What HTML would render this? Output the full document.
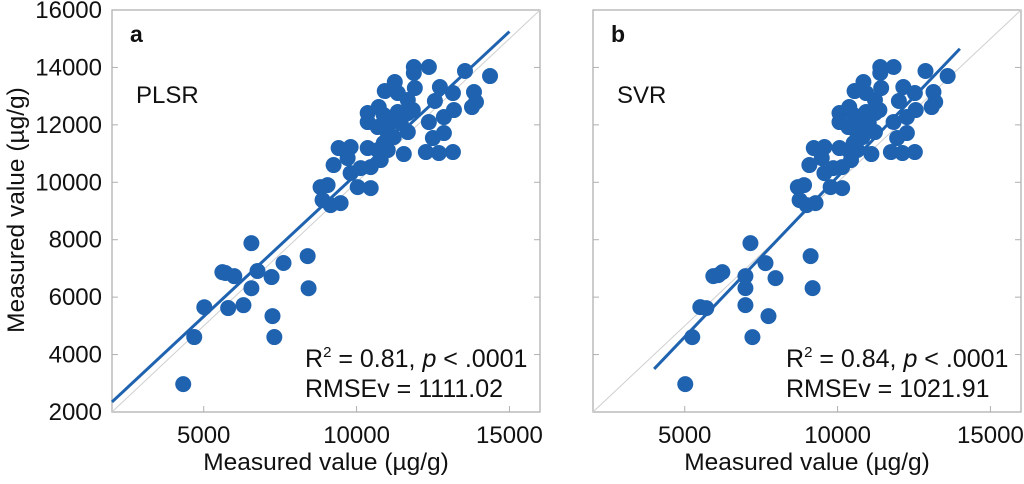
<!DOCTYPE html>
<html><head><meta charset="utf-8"><style>
body{margin:0;background:#fff;}
svg text{font-family:"Liberation Sans",Arial,sans-serif;fill:#111;}
</style></head><body>
<svg id="chart" width="1024" height="479" viewBox="0 0 1024 479" xmlns="http://www.w3.org/2000/svg"></svg>
<script>
const xTicks=[5000,10000,15000];
const yTicks=[2000,4000,6000,8000,10000,12000,14000,16000];
const lowAx=[4330,4690,5020,5610,5710,5800,6000,6300,6560,6560,6760,7220,7250,7310,7610,8400,8430];
const lowAy=[2970,4610,5650,6870,6840,5620,6730,5720,7880,6310,6910,6700,5340,4610,7190,7430,6310];
const clusterAx=[11873,12365,13546,14366,11873,11250,10922,11348,11906,12726,13152,13841,13906,13775,12562,13185,12857,12365,12857,12496,12266,12693,13152,11676,10725,10364,10364,10889,11348,11676,11840,10692,11118,11446,11676,11020,11217,10889,10364,9806,9413,11545,9249,9708,11020,10790,10134,10462,9806,8822,9052,10462,10036,8888,9478,9150,10692];
const clusterY=[14014,14014,13875,13700,13805,13492,13178,13108,13282,13317,13108,13143,12795,12620,12830,12516,12272,12098,11715,11541,11053,11018,11053,12864,12620,12411,12098,12342,12446,12411,12516,11924,12098,12063,11750,11715,11575,11366,11192,11227,11192,10983,10600,10844,11122,10774,10495,10530,10321,9833,9903,9798,9833,9380,9276,9206,11122];
const lowBx=[5018,5247,5510,5706,5936,6100,6231,6986,6986,6986,7150,7215,7642,7740,7970,9118,9183];
const lowBy=[2970,4607,5653,5618,6732,6767,6872,6732,6314,5722,7882,4607,7186,5339,6663,7429,6314];
const clusterBx=[11397,11832,12876,13601,11397,10846,10556,10933,11426,12151,12528,13137,13194,13078,12006,12557,12267,11832,12267,11948,11744,12122,12528,11223,10382,10063,10063,10527,10933,11223,11368,10353,10730,11020,11223,10643,10817,10527,10063,9570,9222,11107,9077,9483,10643,10440,9860,10150,9570,8700,8903,10150,9773,8758,9280,8990,10353];
const fitA=[[2000,2350],[15000,15250]];
const fitB=[[4000,3500],[14000,14650]];
const panels=[
 {id:'a',left:112,label:'a',method:'PLSR',xs:lowAx.concat(clusterAx),ys:lowAy.concat(clusterY),fit:fitA,r2:'0.81',rmse:'1111.02'},
 {id:'b',left:593,label:'b',method:'SVR',xs:lowBx.concat(clusterBx),ys:lowBy.concat(clusterY),fit:fitB,r2:'0.84',rmse:'1021.91'}
];
const NS='http://www.w3.org/2000/svg';
const svg=document.getElementById('chart');
function mk(tag,attrs,parent){const e=document.createElementNS(NS,tag);for(const k in attrs)e.setAttribute(k,attrs[k]);(parent||svg).appendChild(e);return e;}
const plotTop=10,plotBottom=412,W=428;
const yS=v=>plotBottom-(v-2000)/14000*(plotBottom-plotTop);
panels.forEach(p=>{
 const xS=v=>p.left+(v-2000)/14000*W;
 const g=mk('g',{});
 
 
 const fr=mk('rect',{x:p.left,y:plotTop,width:W,height:plotBottom-plotTop,fill:'none',stroke:'#b0b0b0','stroke-width':1.3},g);
 
 
 xTicks.forEach(t=>{
  mk('line',{x1:xS(t),x2:xS(t),y1:plotBottom,y2:plotBottom-6,stroke:'#b0b0b0'},g);
  const tx=mk('text',{x:xS(t),y:plotBottom+31,'text-anchor':'middle','font-size':24},g);
  tx.textContent=t;
  
  
 });
 yTicks.forEach(t=>{
  mk('line',{x1:p.left,x2:p.left+6,y1:yS(t),y2:yS(t),stroke:'#b0b0b0'},g);
  mk('line',{x1:p.left+W,x2:p.left+W-6,y1:yS(t),y2:yS(t),stroke:'#b0b0b0'},g);
  if(p.id==='a'){
   const tx=mk('text',{x:p.left-10,y:yS(t)+8,'text-anchor':'end','font-size':24},g);
   tx.textContent=t;
   
   
  }
 });
 const d=mk('line',{x1:xS(2000),y1:yS(2000),x2:xS(16000),y2:yS(16000),stroke:'#cfcfcf','stroke-width':1},g);
 
 
 p.xs.forEach((x,i)=>{
  const c=mk('circle',{cx:xS(x),cy:yS(p.ys[i]),r:8,fill:'#1f63b0'},g);
  
  
 });
 const f=mk('line',{x1:xS(p.fit[0][0]),y1:yS(p.fit[0][1]),x2:xS(p.fit[1][0]),y2:yS(p.fit[1][1]),stroke:'#1f63b0','stroke-width':3},g);
 
 
 const lb=mk('text',{x:p.left+18,y:42,'font-size':23,'font-weight':'bold'},g);
 lb.textContent=p.label;
 
 
 const m=mk('text',{x:p.left+24,y:103,'font-size':24},g);
 m.textContent=p.method;
 
 
 const r=mk('text',{x:p.left+193,y:367,'font-size':25},g);
 r.innerHTML='R<tspan dy="-10" font-size="15">2</tspan><tspan dy="10"> = '+p.r2+', </tspan><tspan font-style="italic">p</tspan><tspan> &lt; .0001</tspan>';
 
 
 const e=mk('text',{x:p.left+193,y:397,'font-size':25},g);
 e.textContent='RMSEv = '+p.rmse;
 
 
 const xl=mk('text',{x:p.left+W/2,y:470,'text-anchor':'middle','font-size':24.5},g);
 xl.textContent='Measured value (\u00b5g/g)';
 
 
});
const yl=mk('text',{x:0,y:0,'text-anchor':'middle','font-size':24.5,transform:'translate(24,210) rotate(-90)'});
yl.textContent='Measured value (\u00b5g/g)';


</script>
</body></html>
